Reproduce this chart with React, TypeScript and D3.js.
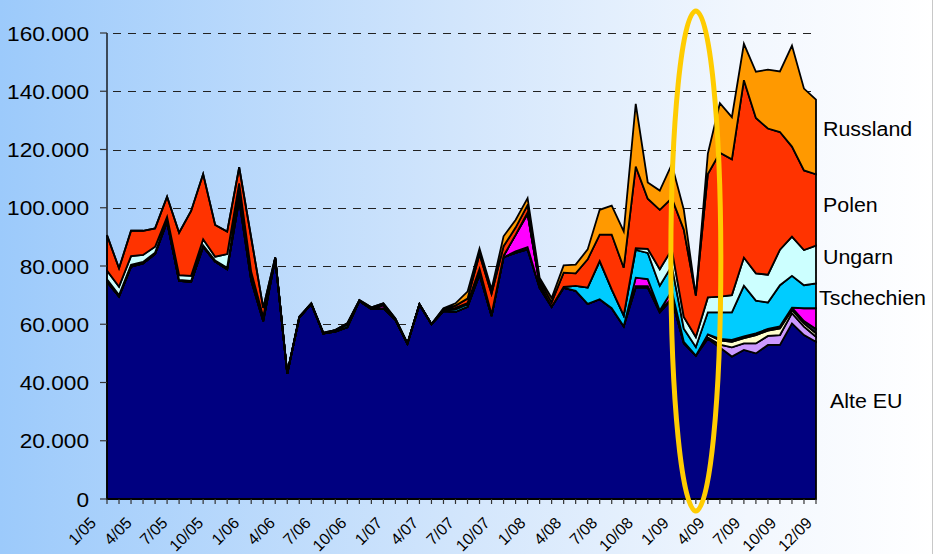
import React from 'react';
import * as d3 from 'd3';

const months = [
  '1/05','2/05','3/05','4/05','5/05','6/05','7/05','8/05','9/05','10/05','11/05','12/05',
  '1/06','2/06','3/06','4/06','5/06','6/06','7/06','8/06','9/06','10/06','11/06','12/06',
  '1/07','2/07','3/07','4/07','5/07','6/07','7/07','8/07','9/07','10/07','11/07','12/07',
  '1/08','2/08','3/08','4/08','5/08','6/08','7/08','8/08','9/08','10/08','11/08','12/08',
  '1/09','2/09','3/09','4/09','5/09','6/09','7/09','8/09','9/09','10/09','11/09','12/09',
];

const tickLabels = ['1/05','4/05','7/05','10/05','1/06','4/06','7/06','10/06','1/07','4/07','7/07','10/07','1/08','4/08','7/08','10/08','1/09','4/09','7/09','10/09','12/09'];

const yTicks = [0, 20000, 40000, 60000, 80000, 100000, 120000, 140000, 160000];

const altEU = [74600,69500,79800,80900,84100,95200,74900,74600,86600,81500,78900,102700,75000,61000,82500,43000,62300,67000,56800,57500,59000,68000,65200,65500,61500,53300,66800,60000,64500,64300,66000,77000,62800,83000,84500,85700,72500,66000,72500,71500,67000,68600,65500,59300,72600,72600,64100,68600,53500,49200,55000,52000,48900,51200,50000,52900,52900,60300,56300,54000];
const lila = [0,0,0,0,0,0,0,0,0,0,0,0,0,0,0,0,0,0,0,0,0,0,0,0,0,0,0,0,0,0,0,0,0,0,0,0,0,0,0,0,0,0,0,0,0,0,0,0,0,0,500,1000,3200,2200,3400,3100,3400,3500,2900,1700];
const creme = [0,0,0,0,0,0,0,0,0,0,0,0,0,0,0,0,0,0,0,0,0,0,0,0,0,0,0,0,0,0,0,0,0,0,0,0,0,0,0,0,0,0,0,0,500,500,0,300,0,0,1000,1500,1900,1800,2900,1800,2300,1100,1100,1200];
const sonstige = [0,0,0,0,0,0,0,0,0,0,0,2000,1000,500,200,0,0,0,0,0,0,0,0,0,0,0,0,0,0,0,0,500,0,0,500,800,0,0,0,0,0,0,0,0,0,0,600,0,500,0,0,500,600,600,600,600,700,800,800,1500];
const magenta = [0,0,0,0,0,0,0,0,0,0,0,0,0,0,0,0,0,0,0,0,0,0,0,1000,0,0,0,0,0,0,0,0,0,500,5700,11300,1300,0,0,0,0,0,0,0,2900,2400,0,2500,0,0,0,0,0,0,0,0,0,0,4400,7100];
const tschechien = [800,500,600,500,500,400,300,300,500,400,500,1200,500,300,0,0,0,0,0,500,800,0,300,300,200,0,0,0,300,800,800,800,300,0,0,300,0,0,300,1700,5600,13100,6500,3700,9500,9000,8500,8600,4500,3000,7600,9100,9500,17400,11200,9100,14100,10900,7900,8500];
const ungarn = [3000,2900,3000,2400,2000,1300,1700,1700,2100,1300,4700,2500,1500,800,0,0,0,0,0,0,500,0,0,0,0,0,0,0,200,500,500,700,300,0,0,300,0,0,0,0,0,0,0,0,600,1400,5700,5700,4000,3400,5100,5400,5900,9700,9400,9500,12200,13500,12100,13000];
const polen = [12200,6300,8700,8300,6300,6900,14500,22300,22400,10900,7700,5500,11700,3000,300,200,300,200,300,0,0,300,300,400,300,200,200,100,300,800,1500,5000,7000,3300,2500,2500,1200,1500,4900,4300,9700,9100,18800,16400,28000,17200,20400,17600,30000,14200,42400,49400,46600,60900,53300,50200,40400,30900,27300,24500];
const russland = [0,0,0,0,0,0,0,0,0,0,0,0,0,0,0,0,0,0,0,0,0,0,0,0,0,0,0,0,200,800,2400,2000,1600,3400,2600,2400,1000,1500,2500,3000,3400,8500,9900,12500,21600,5600,6600,11600,6800,0,7000,17000,14500,12500,15900,20200,20800,34700,28100,25600];

const seriesKeys = ['altEU','lila','creme','sonstige','magenta','tschechien','ungarn','polen','russland'];
const seriesData: Record<string, number[]> = { altEU, lila, creme, sonstige, magenta, tschechien, ungarn, polen, russland };
const seriesColors: Record<string, string> = {
  altEU: '#000080', lila: '#cc99ff', creme: '#ffffcc', sonstige: '#1a1a40', magenta: '#ff00ff',
  tschechien: '#00ccff', ungarn: '#ccffff', polen: '#ff3300', russland: '#ff9900',
};

const legendLabels = [
  { text: 'Russland', x: 823, y: 136 },
  { text: 'Polen', x: 823, y: 212 },
  { text: 'Ungarn', x: 823, y: 264 },
  { text: 'Tschechien', x: 819, y: 305 },
  { text: 'Alte EU', x: 830, y: 408 },
];

const FONT = '"Liberation Sans", Arial, sans-serif';

export default function App() {
  const W = 935, H = 554;
  const left = 107, right = 816, top = 33, bottom = 499;

  const x = d3.scalePoint<string>().domain(months).range([left, right]).padding(0);
  const y = d3.scaleLinear().domain([0, 160000]).range([bottom, top]);
  const labelX = d3.scaleLinear().domain([0, tickLabels.length - 1]).range([97, 813]);

  const table = months.map((m, i) => {
    const row: any = { month: m };
    seriesKeys.forEach(k => { row[k] = seriesData[k][i]; });
    return row;
  });
  const stacked = d3.stack<any>().keys(seriesKeys)(table);
  const area = d3.area<any>()
    .x((d: any) => x(d.data.month) as number)
    .y0((d: any) => y(d[0]))
    .y1((d: any) => y(d[1]));

  const fmt = d3.formatLocale({ decimal: ',', thousands: '.', grouping: [3], currency: ['', ' €'] }).format(',');

  const ellipseX = x('2/09') as number;

  return (
    <svg width={W} height={H} style={{ position: 'absolute', left: 0, top: 0 }}>
      <defs>
        <linearGradient id="bg" x1="0" y1="0" x2="1" y2="0">
          <stop offset="0" stopColor="#9ccafb" />
          <stop offset="0.5" stopColor="#d3e6fc" />
          <stop offset="0.8" stopColor="#f2f7fe" />
          <stop offset="1" stopColor="#ffffff" />
        </linearGradient>
      </defs>
      <rect x={0} y={0} width={W} height={H} fill="url(#bg)" />
      <line x1={932.5} y1={0} x2={932.5} y2={H} stroke="#c8c8c8" strokeWidth={1} />

      {yTicks.filter(t => t > 0).map(t => (
        <line key={'g' + t} x1={left + 6} x2={right} y1={Math.round(y(t)) + 0.5} y2={Math.round(y(t)) + 0.5}
          stroke="#222" strokeWidth={1.2} strokeDasharray="8,7" />
      ))}

      {stacked.map(s => (
        <path key={s.key} d={area(s as any) || ''} fill={seriesColors[s.key]} stroke="#000" strokeWidth={1.8} strokeLinejoin="miter" />
      ))}

      <line x1={left} x2={left} y1={top} y2={bottom} stroke="#000" strokeWidth={1.3} />
      <line x1={left} x2={right} y1={bottom} y2={bottom} stroke="#000" strokeWidth={1.5} />
      {yTicks.map(t => (
        <g key={'yt' + t}>
          <line x1={left - 7} x2={left} y1={y(t)} y2={y(t)} stroke="#333" strokeWidth={1.2} />
          <text transform={`translate(89,${y(t)}) scale(1.08,1)`} dy="0.36em" textAnchor="end" fontFamily={FONT} fontSize={21} fill="#000">{fmt(t)}</text>
        </g>
      ))}
      {months.map(m => (
        <line key={'xt' + m} x1={x(m)} x2={x(m)} y1={bottom} y2={bottom + 5} stroke="#333" strokeWidth={1.2} />
      ))}
      {tickLabels.map((l, j) => (
        <text key={'xl' + j} transform={`translate(${labelX(j)},524) rotate(-45)`} textAnchor="end"
          fontFamily={FONT} fontSize={16} fill="#000">{l}</text>
      ))}

      {legendLabels.map(l => (
        <text key={l.text} transform={`translate(${l.x},${l.y}) scale(1.07,1)`} fontFamily={FONT} fontSize={20} fill="#000">{l.text}</text>
      ))}

      <ellipse cx={ellipseX} cy={261} rx={25} ry={250} fill="none" stroke="#ffcc00" strokeWidth={5} />
    </svg>
  );
}
